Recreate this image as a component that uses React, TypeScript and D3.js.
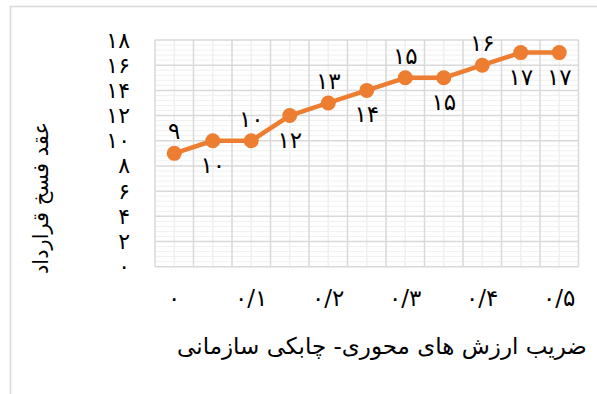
import React, { useEffect, useRef } from 'react';
import * as d3 from 'd3';

// ضریب ارزش های محوری - چابکی سازمانی (x) و عقد فسخ قرارداد (y)
const categories = ['0', '0.05', '0.1', '0.15', '0.2', '0.25', '0.3', '0.35', '0.4', '0.45', '0.5'];
const xTickLabels = ['۰', '', '۰/۱', '', '۰/۲', '', '۰/۳', '', '۰/۴', '', '۰/۵'];
const values = [9, 10, 10, 12, 13, 14, 15, 15, 16, 17, 17];
const labelAbove = [true, false, true, false, true, false, true, false, true, false, false];
const yTicks = [0, 2, 4, 6, 8, 10, 12, 14, 16, 18];
const xTitle = 'ضریب ارزش های محوری- چابکی سازمانی';
const yTitle = 'عقد فسخ قرارداد';

const toFa = (n: number) => String(n).replace(/\d/g, d => '۰۱۲۳۴۵۶۷۸۹'[+d]);

const App = () => {
  const svgRef = useRef<SVGSVGElement>(null);

  useEffect(() => {
    const W = 597;
    const H = 394;
    const plot = { left: 155, right: 578.5, top: 40, bottom: 266.7 };
    const font = '"DejaVu Sans", sans-serif';
    const orange = '#ED7D31';

    d3.select(svgRef.current).selectAll('*').remove();
    const svg = d3.select(svgRef.current).attr('width', W).attr('height', H);

    svg.append('rect')
      .attr('width', W).attr('height', H).attr('fill', 'white');

    // chart border
    svg.append('rect')
      .attr('x', 10.5).attr('y', 6.5)
      .attr('width', 620).attr('height', 420)
      .attr('fill', 'none').attr('stroke', '#d9d9d9').attr('stroke-width', 1.5);

    const x = d3.scaleBand<string>().domain(categories).range([plot.left, plot.right]);
    const y = d3.scaleLinear().domain([0, 18]).range([plot.bottom, plot.top]);
    const cx = (c: string) => (x(c) ?? 0) + x.bandwidth() / 2;

    const grid = svg.append('g');

    // minor horizontal gridlines
    const minor = d3.range(0, 18.001, 0.4).filter(v => Math.abs(v / 2 - Math.round(v / 2)) > 0.01);
    grid.selectAll('line.hmin').data(minor).join('line')
      .attr('x1', plot.left).attr('x2', plot.right)
      .attr('y1', d => y(d)).attr('y2', d => y(d))
      .attr('stroke', '#f0f0f0').attr('stroke-width', 1);

    // minor vertical gridlines (category centers)
    grid.selectAll('line.vmin').data(categories).join('line')
      .attr('x1', d => cx(d)).attr('x2', d => cx(d))
      .attr('y1', plot.top).attr('y2', plot.bottom)
      .attr('stroke', '#f0f0f0').attr('stroke-width', 1.5);

    // major horizontal gridlines
    grid.selectAll('line.hmaj').data(yTicks).join('line')
      .attr('x1', plot.left).attr('x2', plot.right)
      .attr('y1', d => y(d)).attr('y2', d => y(d))
      .attr('stroke', '#d9d9d9').attr('stroke-width', 1.5);

    // major vertical gridlines (category boundaries)
    const bounds = [...categories.map(c => x(c) ?? 0), plot.right];
    grid.selectAll('line.vmaj').data(bounds).join('line')
      .attr('x1', d => d).attr('x2', d => d)
      .attr('y1', plot.top).attr('y2', plot.bottom)
      .attr('stroke', '#d9d9d9').attr('stroke-width', 1.5);

    // y tick labels
    svg.append('g').selectAll('text').data(yTicks).join('text')
      .attr('x', 130).attr('y', d => y(d))
      .attr('text-anchor', 'end').attr('dominant-baseline', 'central')
      .attr('font-family', font).attr('font-size', 22).attr('fill', '#000')
      .text(d => toFa(d));

    // x tick labels
    svg.append('g').selectAll('text').data(categories).join('text')
      .attr('x', d => cx(d)).attr('y', 298)
      .attr('text-anchor', 'middle').attr('dominant-baseline', 'central')
      .attr('font-family', font).attr('font-size', 23).attr('fill', '#000')
      .text((d, i) => xTickLabels[i]);

    const pts = categories.map((c, i) => ({ c, v: values[i], up: labelAbove[i] }));

    const line = d3.line<{ c: string; v: number }>()
      .x(d => cx(d.c))
      .y(d => y(d.v));

    svg.append('path')
      .datum(pts)
      .attr('fill', 'none')
      .attr('stroke', orange)
      .attr('stroke-width', 4.5)
      .attr('stroke-linejoin', 'round')
      .attr('d', line);

    svg.append('g').selectAll('circle').data(pts).join('circle')
      .attr('cx', d => cx(d.c)).attr('cy', d => y(d.v))
      .attr('r', 7.5).attr('fill', orange);

    // data labels
    svg.append('g').selectAll('text').data(pts).join('text')
      .attr('x', d => cx(d.c))
      .attr('y', d => y(d.v) + (d.up ? -22 : 24))
      .attr('text-anchor', 'middle').attr('dominant-baseline', 'central')
      .attr('font-family', font).attr('font-size', 23).attr('fill', '#000')
      .text(d => toFa(d.v));

    // axis titles
    svg.append('text')
      .attr('x', 382).attr('y', 346)
      .attr('text-anchor', 'middle').attr('dominant-baseline', 'central')
      .attr('font-family', font).attr('font-size', 23).attr('fill', '#000')
      .text(xTitle);

    svg.append('text')
      .attr('transform', 'translate(41,198) rotate(-90)')
      .attr('text-anchor', 'middle').attr('dominant-baseline', 'central')
      .attr('font-family', font).attr('font-size', 21).attr('fill', '#000')
      .text(yTitle);
  }, []);

  return <svg ref={svgRef} style={{ position: 'absolute', left: 0, top: 0 }} />;
};

export default App;
